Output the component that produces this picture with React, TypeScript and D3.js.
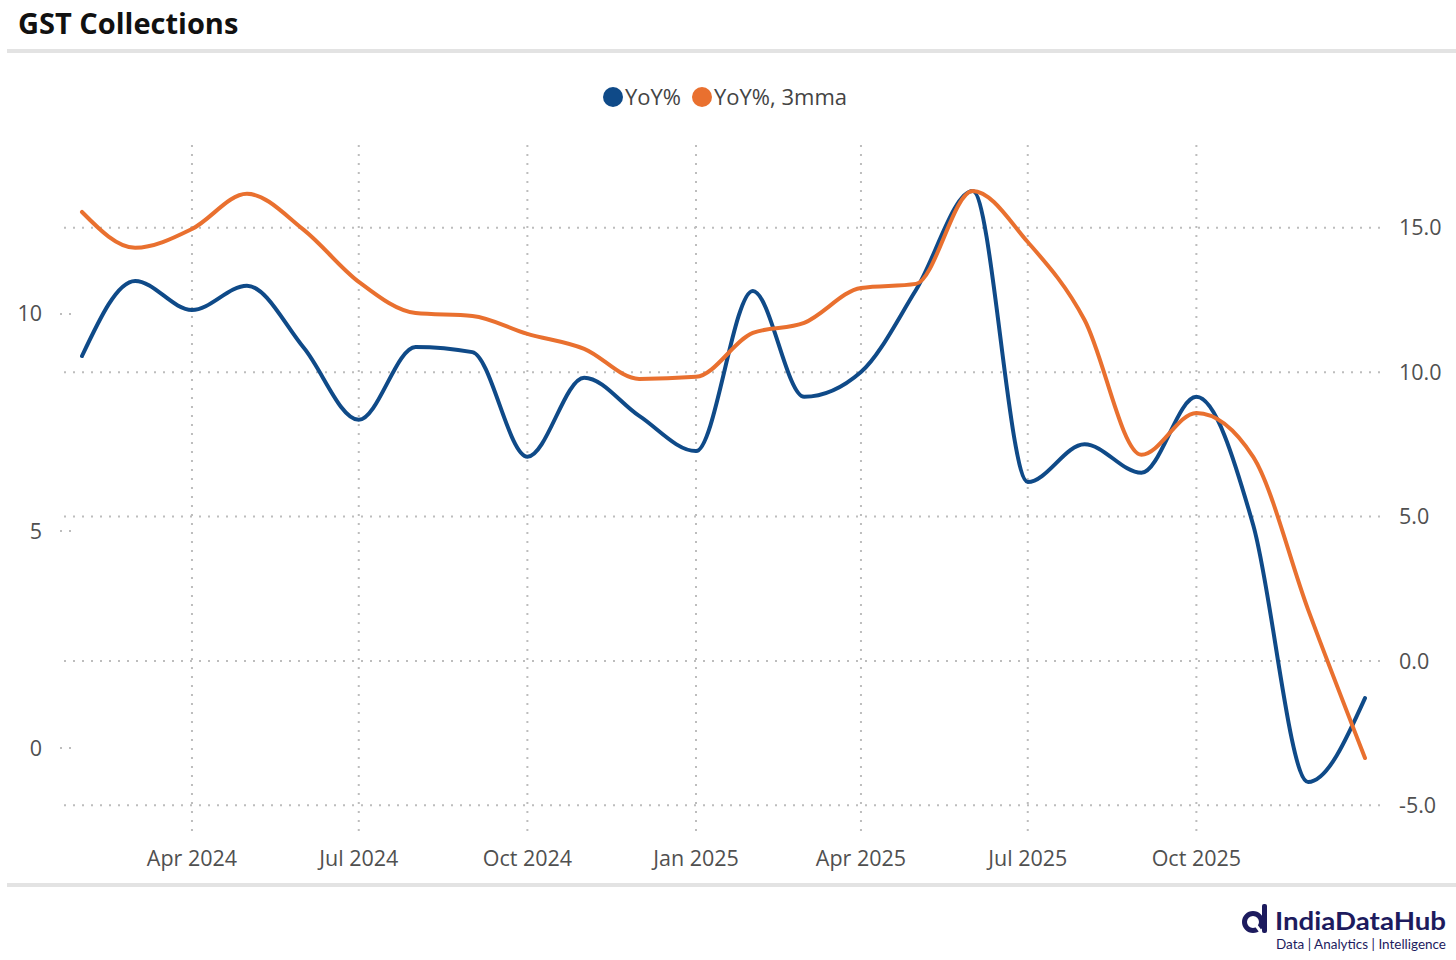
import React, { useEffect, useRef } from 'react';
import * as d3 from 'd3';

// monthly GST collections growth
const months = [
    '2024-02', '2024-03', '2024-04', '2024-05', '2024-06', '2024-07', '2024-08', '2024-09',
    '2024-10', '2024-11', '2024-12', '2025-01', '2025-02', '2025-03', '2025-04', '2025-05',
    '2025-06', '2025-07', '2025-08', '2025-09', '2025-10', '2025-11', '2025-12', '2026-01',
];
const yoy = [
    9.03, 10.76, 10.09, 10.65, 9.22, 7.56, 9.24, 9.12,
    6.71, 8.53, 7.65, 6.84, 10.53, 8.09, 8.66, 10.55,
    12.83, 6.13, 7.0, 6.34, 8.09, 5.14, -0.78, 1.15,
];
const yoy3mma = [
    15.55, 14.31, 14.96, 16.18, 14.93, 13.13, 12.05, 11.95,
    11.33, 10.81, 9.77, 9.84, 11.36, 11.71, 12.92, 13.06,
    16.28, 14.51, 11.81, 7.14, 8.59, 7.07, 1.77, -3.36,
];
const leftTicks = [0, 5, 10];
const rightTicks = [-5, 0, 5, 10, 15];
const xTickMonths = ['2024-04', '2024-07', '2024-10', '2025-01', '2025-04', '2025-07', '2025-10'];
const seriesNames = ['YoY%', 'YoY%, 3mma'];

const W = 1456;
const H = 960;
const BLUE = '#0f4a88';
const ORANGE = '#e9702f';
const NAVY = '#1d1b5e';
const FONT = '"Open Sans", "Noto Sans", sans-serif';

const GstChart: React.FC = () => {
    const svgRef = useRef<SVGSVGElement | null>(null);

    useEffect(() => {
        const svg = d3.select(svgRef.current);
        svg.selectAll('*').remove();

        const parse = d3.timeParse('%Y-%m');
        const dates = months.map(m => parse(m)!);

        const plot = { left: 64, right: 1383, top: 145, bottom: 838 };

        const x = d3.scaleTime()
            .domain([dates[0], dates[dates.length - 1]])
            .range([82, 1365]);

        const yLeft = d3.scaleLinear()
            .domain([-2.07, 13.89])
            .range([plot.bottom, plot.top]);

        const yRight = d3.scaleLinear()
            .domain([-6.13, 17.87])
            .range([plot.bottom, plot.top]);

        // title + separators
        svg.append('text')
            .attr('x', 18)
            .attr('y', 34)
            .attr('font-family', FONT)
            .attr('font-weight', 700)
            .attr('font-size', 29)
            .attr('fill', '#111')
            .text('GST Collections');

        [51, 885].forEach(yy => {
            svg.append('line')
                .attr('x1', 7).attr('x2', W)
                .attr('y1', yy).attr('y2', yy)
                .attr('stroke', '#e3e3e3')
                .attr('stroke-width', 4);
        });

        // grid
        const grid = svg.append('g')
            .attr('stroke', '#bdbdbd')
            .attr('stroke-width', 2)
            .attr('stroke-dasharray', '2,7')
            .attr('fill', 'none');

        rightTicks.forEach(t => {
            grid.append('line')
                .attr('x1', plot.left).attr('x2', plot.right)
                .attr('y1', yRight(t)).attr('y2', yRight(t));
        });

        const xTicks = xTickMonths.map(m => parse(m)!);
        xTicks.forEach(d => {
            grid.append('line')
                .attr('x1', x(d)).attr('x2', x(d))
                .attr('y1', plot.top).attr('y2', plot.bottom);
        });

        leftTicks.forEach(t => {
            grid.append('line')
                .attr('x1', 60).attr('x2', 74)
                .attr('y1', yLeft(t)).attr('y2', yLeft(t));
        });

        // axis labels
        const labels = svg.append('g')
            .attr('font-family', FONT)
            .attr('font-size', 21.5)
            .attr('fill', '#505050');

        leftTicks.forEach(t => {
            labels.append('text')
                .attr('x', 42)
                .attr('y', yLeft(t))
                .attr('dy', '0.35em')
                .attr('text-anchor', 'end')
                .text(d3.format('d')(t));
        });

        rightTicks.forEach(t => {
            labels.append('text')
                .attr('x', 1399)
                .attr('y', yRight(t))
                .attr('dy', '0.35em')
                .text(d3.format('.1f')(t).replace('\u2212', '-'));
        });

        const fmt = d3.timeFormat('%b %Y');
        xTicks.forEach(d => {
            labels.append('text')
                .attr('x', x(d))
                .attr('y', 858)
                .attr('dy', '0.35em')
                .attr('text-anchor', 'middle')
                .text(fmt(d));
        });

        // series
        const series = [
            { values: yoy, y: yLeft, color: BLUE },
            { values: yoy3mma, y: yRight, color: ORANGE },
        ];

        series.forEach(s => {
            const line = d3.line<number>()
                .x((_, i) => x(dates[i]))
                .y(v => s.y(v))
                .curve(d3.curveMonotoneX);

            svg.append('path')
                .datum(s.values)
                .attr('d', line)
                .attr('fill', 'none')
                .attr('stroke', s.color)
                .attr('stroke-width', 4)
                .attr('stroke-linecap', 'round')
                .attr('stroke-linejoin', 'round');
        });

        // legend
        const legend = svg.append('g')
            .attr('font-family', FONT)
            .attr('font-size', 22)
            .attr('fill', '#444');

        const legendX = [613, 702];
        seriesNames.forEach((name, i) => {
            legend.append('circle')
                .attr('cx', legendX[i])
                .attr('cy', 97)
                .attr('r', 10)
                .attr('fill', series[i].color);
            legend.append('text')
                .attr('x', legendX[i] + 12)
                .attr('y', 97)
                .attr('dy', '0.35em')
                .text(name);
        });

        // logo
        const logo = svg.append('g').attr('fill', NAVY);
        logo.append('circle')
            .attr('cx', 1253)
            .attr('cy', 922)
            .attr('r', 8.5)
            .attr('fill', 'none')
            .attr('stroke', NAVY)
            .attr('stroke-width', 5);
        logo.append('rect')
            .attr('x', 1262).attr('y', 904)
            .attr('width', 5).attr('height', 29)
            .attr('rx', 2);
        logo.append('line')
            .attr('x1', 1255).attr('y1', 924)
            .attr('x2', 1261).attr('y2', 932)
            .attr('stroke', '#ffffff')
            .attr('stroke-width', 3);
        logo.append('text')
            .attr('x', 1275)
            .attr('y', 930)
            .attr('font-family', '"Lato", "Noto Sans", sans-serif')
            .attr('font-weight', 700)
            .attr('font-size', 25)
            .attr('textLength', 171)
            .attr('lengthAdjust', 'spacingAndGlyphs')
            .text('IndiaDataHub');
        logo.append('text')
            .attr('x', 1276)
            .attr('y', 949)
            .attr('font-family', '"Lato", "Noto Sans", sans-serif')
            .attr('font-size', 12.5)
            .attr('textLength', 170)
            .attr('lengthAdjust', 'spacingAndGlyphs')
            .text('Data | Analytics | Intelligence');
    }, []);

    return <svg ref={svgRef} width={W} height={H} style={{ display: 'block', background: '#fff' }} />;
};

export default function App() {
    return (
        <div style={{ position: 'absolute', left: 0, top: 0, width: W, height: H, background: '#fff' }}>
            <GstChart />
        </div>
    );
}
